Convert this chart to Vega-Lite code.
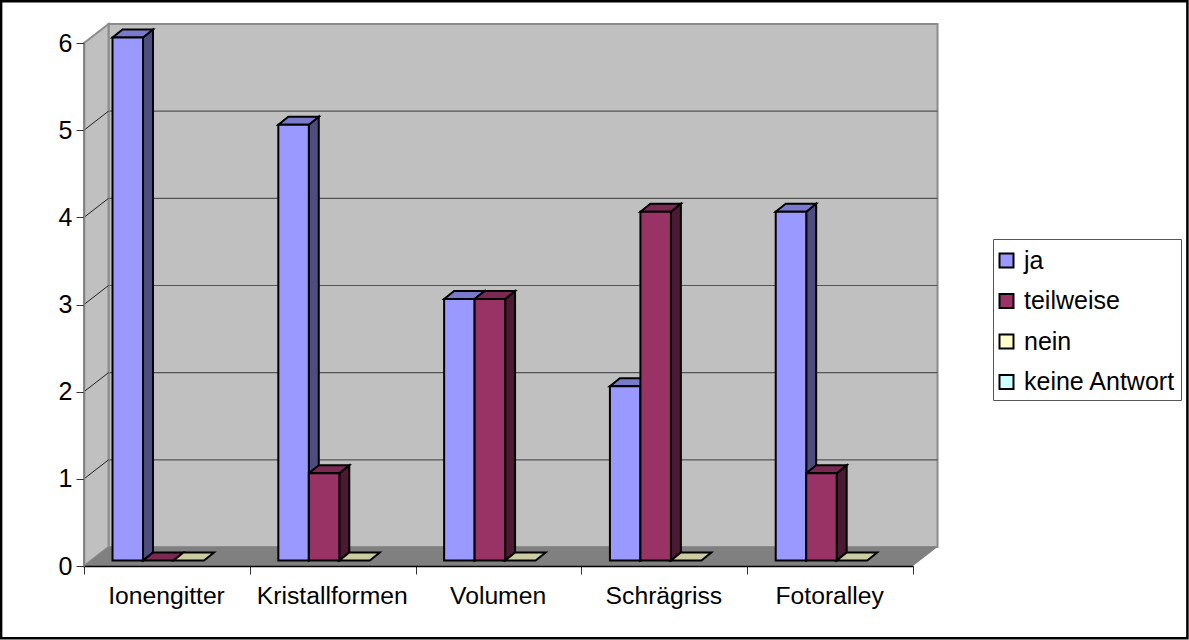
{
"$schema":"https://vega.github.io/schema/vega-lite/v6.json",
"width":829,"height":523,"autosize":"none",
"padding":{"left":84,"top":43,"right":276,"bottom":74},
"background":"white",
"config":{"view":{"stroke":null},"font":"Liberation Sans"},
"datasets":{
"results":[
{"category":"Ionengitter","series":"ja","value":6},{"category":"Ionengitter","series":"teilweise","value":0},{"category":"Ionengitter","series":"nein","value":0},
{"category":"Kristallformen","series":"ja","value":5},{"category":"Kristallformen","series":"teilweise","value":1},{"category":"Kristallformen","series":"nein","value":0},
{"category":"Volumen","series":"ja","value":3},{"category":"Volumen","series":"teilweise","value":3},{"category":"Volumen","series":"nein","value":0},
{"category":"Schrägriss","series":"ja","value":2},{"category":"Schrägriss","series":"teilweise","value":4},{"category":"Schrägriss","series":"nein","value":0},
{"category":"Fotoralley","series":"ja","value":4},{"category":"Fotoralley","series":"teilweise","value":1},{"category":"Fotoralley","series":"nein","value":0}
],
"depth":[{"t":0},{"t":1}],
"levels":[{"level":1},{"level":2},{"level":3},{"level":4},{"level":5}]
},
"layer":[
{"data":{"values":[{"a":1}]},
 "mark":{"type":"rect","fill":"white","stroke":"black","strokeWidth":2.5,"clip":false},
 "encoding":{
  "x":{"datum":-0.5,"type":"quantitative","scale":{"domain":[0,5],"nice":false,"zero":false},
   "axis":{"values":[0,1,2,3,4,5],"title":null,"grid":false,"zindex":1,"domainColor":"black","domainWidth":1.5,"tickColor":"#333333","tickSize":8,"tickWidth":1,
    "labelExpr":"['Ionengitter','Kristallformen','Volumen','Schrägriss','Fotoralley',''][datum.value]",
    "labelOffset":82,"labelFontSize":24.7,"labelColor":"black","labelPadding":9,"labelOverlap":false,"labelBound":false,"labelFlush":false,"labelFont":"Liberation Sans"}},
  "x2":{"datum":6.655},
  "y":{"datum":6.48,"type":"quantitative","scale":{"domain":[0,6],"nice":false,"zero":false},
   "axis":{"values":[0,1,2,3,4,5,6],"format":"d","title":null,"grid":false,"zindex":1,"domainColor":"#808080","domainWidth":1.5,"tickColor":"#333333","tickSize":8,"tickWidth":1,
    "labelFontSize":25,"labelColor":"black","labelPadding":4,"labelOverlap":false,"labelBound":false,"labelFlush":false,"labelFont":"Liberation Sans"}},
  "y2":{"datum":-0.83}
 }},
{"data":{"values":[{"a":1}]},
 "mark":{"type":"rect","fill":"#C0C0C0","stroke":"#8C8C8C","strokeWidth":2},
 "encoding":{
  "x":{"datum":0.148,"type":"quantitative","scale":{"domain":[0,5],"nice":false,"zero":false}},
  "x2":{"datum":5.148},
  "y":{"datum":6.218,"type":"quantitative","scale":{"domain":[0,6],"nice":false,"zero":false}},
  "y2":{"datum":0.218}
 }},
{"data":{"name":"levels"},
 "transform":[{"calculate":"datum.level+0.218","as":"yb"},{"calculate":"0.148","as":"xa"},{"calculate":"5.148","as":"xb"}],
 "mark":{"type":"rule","color":"#555555","strokeWidth":1.2},
 "encoding":{
  "x":{"field":"xa","type":"quantitative","scale":{"domain":[0,5],"nice":false,"zero":false}},
  "x2":{"field":"xb"},
  "y":{"field":"yb","type":"quantitative","scale":{"domain":[0,6],"nice":false,"zero":false}}
 }},
{"data":{"name":"depth"},
 "transform":[{"calculate":"datum.t*0.148","as":"xx"},{"calculate":"6+datum.t*0.218","as":"yt"},{"calculate":"datum.t*0.218","as":"yb"}],
 "mark":{"type":"area","fill":"#C0C0C0","stroke":"#8C8C8C","strokeWidth":2,"orient":"vertical"},
 "encoding":{
  "x":{"field":"xx","type":"quantitative","scale":{"domain":[0,5],"nice":false,"zero":false}},
  "y":{"field":"yt","type":"quantitative","stack":null,"scale":{"domain":[0,6],"nice":false,"zero":false}},
  "y2":{"field":"yb"}
 }},
{"data":{"name":"levels"},
 "transform":[{"calculate":"datum.level+0.218","as":"yb"},{"calculate":"0.148","as":"xb"},{"calculate":"0","as":"xa"}],
 "mark":{"type":"rule","color":"#222222","strokeWidth":1},
 "encoding":{
  "x":{"field":"xa","type":"quantitative","scale":{"domain":[0,5],"nice":false,"zero":false}},
  "x2":{"field":"xb"},
  "y":{"field":"level","type":"quantitative","scale":{"domain":[0,6],"nice":false,"zero":false}},
  "y2":{"field":"yb"}
 }},
{"data":{"name":"depth"},
 "transform":[{"calculate":"datum.t*0.148","as":"xa"},{"calculate":"5+datum.t*0.148","as":"xb"},{"calculate":"datum.t*0.218","as":"yy"}],
 "mark":{"type":"area","fill":"#808080","orient":"horizontal"},
 "encoding":{
  "x":{"field":"xa","type":"quantitative","stack":null,"scale":{"domain":[0,5],"nice":false,"zero":false}},
  "x2":{"field":"xb"},
  "y":{"field":"yy","type":"quantitative","scale":{"domain":[0,6],"nice":false,"zero":false}}
 }},
{"data":{"name":"results"},
 "transform":[
  {"filter":"datum.value>0"},
  {"calculate":"indexof(['Ionengitter','Kristallformen','Volumen','Schrägriss','Fotoralley'],datum.category)+0.172+indexof(['ja','teilweise','nein'],datum.series)*0.184","as":"x0"},
  {"calculate":"[0,1]","as":"t"},{"flatten":["t"]},
  {"calculate":"datum.x0+0.184+datum.t*0.06","as":"xx"},
  {"calculate":"datum.value+0.063+datum.t*0.092","as":"yt"},
  {"calculate":"0.063+datum.t*0.092","as":"yb"},
  {"calculate":"datum.category+datum.series","as":"key"}
 ],
 "mark":{"type":"area","stroke":"black","strokeWidth":2,"orient":"vertical"},
 "encoding":{
  "x":{"field":"xx","type":"quantitative","scale":{"domain":[0,5],"nice":false,"zero":false}},
  "y":{"field":"yt","type":"quantitative","stack":null,"scale":{"domain":[0,6],"nice":false,"zero":false}},
  "y2":{"field":"yb"},
  "detail":{"field":"key"},
  "color":{"field":"series","type":"nominal","legend":null,"scale":{"domain":["ja","teilweise","nein"],"range":["#4D4D80","#4C1933","#808066"]}}
 }},
{"data":{"name":"results"},
 "transform":[
  {"calculate":"indexof(['Ionengitter','Kristallformen','Volumen','Schrägriss','Fotoralley'],datum.category)+0.172+indexof(['ja','teilweise','nein'],datum.series)*0.184","as":"x0"},
  {"calculate":"[0,1]","as":"t"},{"flatten":["t"]},
  {"calculate":"datum.x0+datum.t*0.06","as":"xa"},
  {"calculate":"datum.x0+0.184+datum.t*0.06","as":"xb"},
  {"calculate":"datum.value+0.063+datum.t*0.092","as":"yy"},
  {"calculate":"datum.category+datum.series","as":"key"}
 ],
 "mark":{"type":"area","stroke":"black","strokeWidth":2,"orient":"horizontal"},
 "encoding":{
  "x":{"field":"xa","type":"quantitative","stack":null,"scale":{"domain":[0,5],"nice":false,"zero":false}},
  "x2":{"field":"xb"},
  "y":{"field":"yy","type":"quantitative","scale":{"domain":[0,6],"nice":false,"zero":false}},
  "detail":{"field":"key"},
  "color":{"field":"series","type":"nominal","legend":null,"scale":{"domain":["ja","teilweise","nein"],"range":["#7A7ACC","#7A2952","#CCCCA3"]}}
 }},
{"data":{"name":"results"},
 "transform":[
  {"filter":"datum.value>0"},
  {"calculate":"indexof(['Ionengitter','Kristallformen','Volumen','Schrägriss','Fotoralley'],datum.category)+0.172+indexof(['ja','teilweise','nein'],datum.series)*0.184","as":"x0"},
  {"calculate":"datum.x0+0.184","as":"x1"},
  {"calculate":"datum.value+0.063","as":"yt"},
  {"calculate":"0.063","as":"yb"}
 ],
 "mark":{"type":"rect","stroke":"black","strokeWidth":2},
 "encoding":{
  "x":{"field":"x0","type":"quantitative","scale":{"domain":[0,5],"nice":false,"zero":false}},
  "x2":{"field":"x1"},
  "y":{"field":"yt","type":"quantitative","scale":{"domain":[0,6],"nice":false,"zero":false}},
  "y2":{"field":"yb"},
  "color":{"field":"series","type":"nominal",
   "scale":{"domain":["ja","teilweise","nein","keine Antwort"],"range":["#9999FF","#993366","#FFFFCC","#CCFFFF"]},
   "legend":{"orient":"none","legendX":909,"legendY":196,"title":" ","titleFontSize":1,"titlePadding":3,"symbolType":"square","symbolSize":196,"symbolStrokeColor":"black","symbolStrokeWidth":2,"symbolOffset":-4,"labelFontSize":25,"labelColor":"black","labelFont":"Liberation Sans","rowPadding":14.5,"padding":5,"strokeColor":"#555555","fillColor":"white","labelOffset":5,"labelLimit":200}}
 }}
],
"resolve":{"scale":{"color":"independent"}}
}
